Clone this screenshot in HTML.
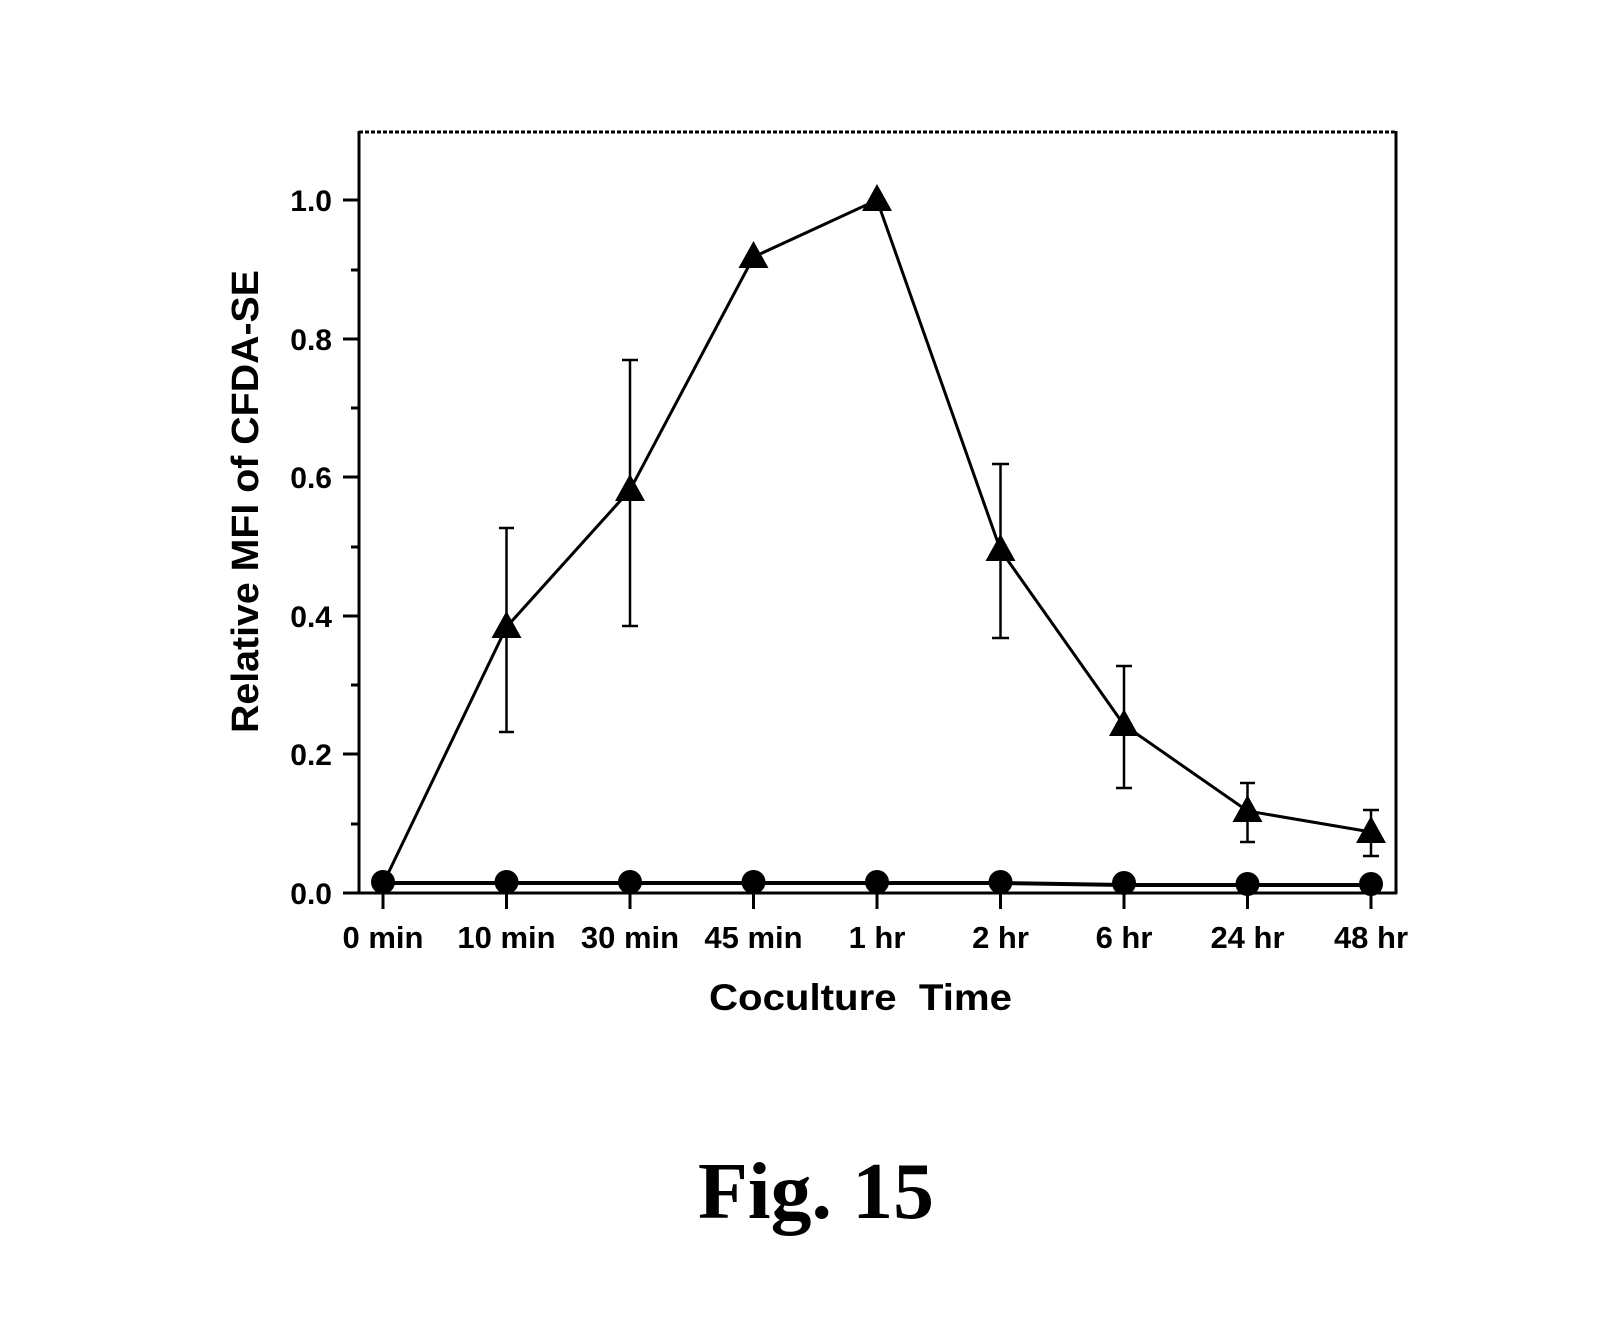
<!DOCTYPE html>
<html><head><meta charset="utf-8"><style>html,body{margin:0;padding:0;background:#fff}</style></head>
<body>
<svg width="1602" height="1330" viewBox="0 0 1602 1330" xmlns="http://www.w3.org/2000/svg">
<rect width="1602" height="1330" fill="#fff"/>
<g stroke="#000" fill="none">
<line x1="359" y1="132" x2="1396" y2="132" stroke-width="3" stroke-dasharray="4,2"/>
<line x1="359" y1="131" x2="359" y2="894" stroke-width="3"/>
<line x1="1396" y1="131" x2="1396" y2="894" stroke-width="3"/>
<line x1="343" y1="893" x2="1397" y2="893" stroke-width="3"/>
<g stroke-width="3">
<line x1="343" y1="200" x2="359" y2="200"/><line x1="343" y1="339" x2="359" y2="339"/><line x1="343" y1="477" x2="359" y2="477"/><line x1="343" y1="616" x2="359" y2="616"/><line x1="343" y1="754" x2="359" y2="754"/>
<line x1="351" y1="270" x2="359" y2="270"/><line x1="351" y1="408" x2="359" y2="408"/><line x1="351" y1="547" x2="359" y2="547"/><line x1="351" y1="685" x2="359" y2="685"/><line x1="351" y1="824" x2="359" y2="824"/>
<line x1="383" y1="893" x2="383" y2="909"/><line x1="506.5" y1="893" x2="506.5" y2="909"/><line x1="630" y1="893" x2="630" y2="909"/><line x1="753.5" y1="893" x2="753.5" y2="909"/><line x1="877" y1="893" x2="877" y2="909"/><line x1="1000.5" y1="893" x2="1000.5" y2="909"/><line x1="1124" y1="893" x2="1124" y2="909"/><line x1="1247.5" y1="893" x2="1247.5" y2="909"/><line x1="1371" y1="893" x2="1371" y2="909"/>
</g>
<g stroke-width="2.5">
<line x1="506.5" y1="528" x2="506.5" y2="732"/><line x1="499" y1="528" x2="514" y2="528"/><line x1="499" y1="732" x2="514" y2="732"/>
<line x1="630" y1="360" x2="630" y2="626"/><line x1="622" y1="360" x2="638" y2="360"/><line x1="622" y1="626" x2="638" y2="626"/>
<line x1="1000.5" y1="464" x2="1000.5" y2="638"/><line x1="992" y1="464" x2="1009" y2="464"/><line x1="992" y1="638" x2="1009" y2="638"/>
<line x1="1124" y1="666" x2="1124" y2="788"/><line x1="1116" y1="666" x2="1132" y2="666"/><line x1="1116" y1="788" x2="1132" y2="788"/>
<line x1="1247.5" y1="783" x2="1247.5" y2="842"/><line x1="1240" y1="783" x2="1255" y2="783"/><line x1="1240" y1="842" x2="1255" y2="842"/>
<line x1="1371" y1="810" x2="1371" y2="856"/><line x1="1363" y1="810" x2="1379" y2="810"/><line x1="1363" y1="856" x2="1379" y2="856"/>
</g>
<polyline stroke-width="3" points="383,884 506.5,627 630,490 753.5,257 877,200 1000.5,550 1124,725 1247.5,811 1371,832"/>
<polyline stroke-width="4" points="383,883 1000.5,883 1124,885 1371,885"/>
</g>
<g fill="#000">
<circle cx="383" cy="882" r="12"/><circle cx="506.5" cy="882" r="12"/><circle cx="630" cy="882" r="12"/><circle cx="753.5" cy="882" r="12"/><circle cx="877" cy="882" r="12"/><circle cx="1000.5" cy="882" r="12"/><circle cx="1124" cy="883" r="12"/><circle cx="1247.5" cy="884" r="12"/><circle cx="1371" cy="884" r="12"/>
<polygon points="506.5,611 491.5,638 521.5,638"/>
<polygon points="630,474 615,501 645,501"/>
<polygon points="753.5,241 738.5,268 768.5,268"/>
<polygon points="877,184 862,211 892,211"/>
<polygon points="1000.5,534 985.5,561 1015.5,561"/>
<polygon points="1124,709 1109,736 1139,736"/>
<polygon points="1247.5,795 1232.5,822 1262.5,822"/>
<polygon points="1371,816 1356,843 1386,843"/>
</g>
<g font-family="Liberation Sans, Arial, sans-serif" font-weight="bold" fill="#000">
<g font-size="30" text-anchor="end">
<text x="332" y="211">1.0</text><text x="332" y="350">0.8</text><text x="332" y="488">0.6</text><text x="332" y="627">0.4</text><text x="332" y="765">0.2</text><text x="332" y="904">0.0</text>
</g>
<g font-size="31" text-anchor="middle">
<text x="383" y="948">0 min</text><text x="506.5" y="948">10 min</text><text x="630" y="948">30 min</text><text x="753.5" y="948">45 min</text><text x="877" y="948">1 hr</text><text x="1000.5" y="948">2 hr</text><text x="1124" y="948">6 hr</text><text x="1247.5" y="948">24 hr</text><text x="1371" y="948">48 hr</text>
</g>
<text x="709" y="1010" font-size="37" textLength="303" lengthAdjust="spacingAndGlyphs" xml:space="preserve">Coculture  Time</text>
<text transform="translate(258,733) rotate(-90)" x="0" y="0" font-size="38" textLength="463" lengthAdjust="spacingAndGlyphs">Relative MFI of CFDA-SE</text>
</g>
<text x="698" y="1218" font-family="Liberation Serif, Times New Roman, serif" font-weight="bold" font-size="80" textLength="236" lengthAdjust="spacingAndGlyphs">Fig. 15</text>
</svg>
</body></html>
